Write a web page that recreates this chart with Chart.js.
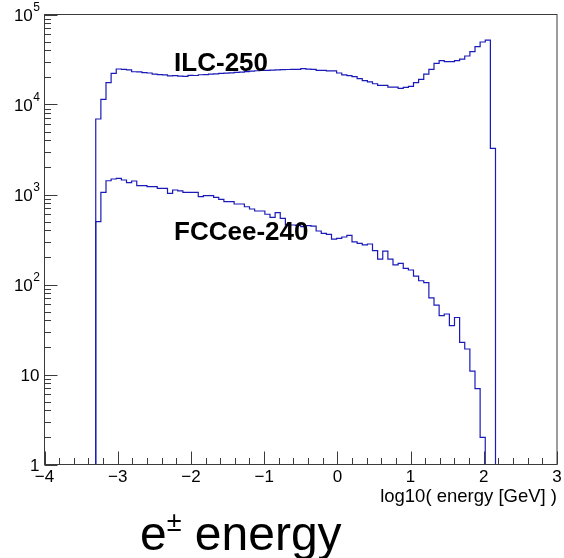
<!DOCTYPE html>
<html>
<head>
<meta charset="utf-8">
<script src="https://cdn.jsdelivr.net/npm/chart.js@4.4.1/dist/chart.umd.min.js"></script>
<style>
  html, body { margin: 0; padding: 0; background: #ffffff; }
  canvas { display: block; }
</style>
</head>
<body>
<canvas id="c" width="564" height="558"></canvas>
<script>
// Histogram binning: 100 equal bins of log10(E / GeV) over [-4, 3]
const X_MIN = -4;
const X_MAX = 3;
const N_BINS = 100;
const Y_MIN = 1;
const Y_MAX = 1e5;
const FIRST_BIN = 10;   // first filled bin, lower edge at -3.3

// Entries per bin, starting at FIRST_BIN
const ilcCounts = [
  6900, 11400, 17500, 22200, 24800, 24600, 24200, 23100, 23000, 22600,
  22400, 21700, 21500, 21300, 20800, 20900, 20700, 20500, 21100, 21000,
  21400, 21500, 21800, 21900, 22200, 22300, 22500, 22700, 22900, 23200,
  23500, 23700, 23900, 24000, 24100, 24300, 24400, 24500, 24600, 24600,
  25100, 24700, 24600, 24000, 24000, 23600, 23600, 22400, 21300, 20900,
  20400, 19400, 18400, 17800, 17000, 16300, 16300, 15600, 15600, 15100,
  15500, 15900, 17500, 19000, 21700, 24600, 28700, 30700, 29900, 29900,
  30700, 32000, 34600, 38600, 43900, 49500, 52000, 3260
];

const fccCounts = [
  500, 1058, 1422, 1486, 1513, 1449, 1352, 1413, 1253, 1253,
  1221, 1221, 1172, 1172, 1031, 1122, 1096, 1058, 1058, 1058,
  946, 970, 970, 931, 885, 832, 832, 784, 784, 731,
  690, 656, 656, 603, 558, 628, 544, 458, 458, 455,
  440, 450, 445, 393, 370, 361, 320, 326, 337, 352,
  297, 287, 275, 282, 238, 191, 235, 191, 165, 172,
  151, 145, 124, 110, 105, 71, 59, 45, 47, 35,
  43, 22.8, 19.2, 10.9, 6.95, 2.0
];

const seriesNames = ['ILC-250', 'FCCee-240'];
const seriesLabelX = [-2.23, -2.23];
const seriesLabelY = [23600, 312];

const xTickValues = [-4, -3, -2, -1, 0, 1, 2, 3];
const xTickLabels = ['\u22124', '\u22123', '\u22122', '\u22121', '0', '1', '2', '3'];
const yTickValues = [1, 10, 100, 1000, 10000, 100000];
const yTickBases = ['1', '10', '10', '10', '10', '10'];
const yTickExps = ['', '', '2', '3', '4', '5'];

const xAxisTitle = 'log10( energy [GeV] )';
const titleMain = 'e';
const titleSup = '\u00B1';
const titleRest = ' energy';

const LINE_COLOR = '#1a1ab8';
const AXIS_COLOR = '#3a3a3a';
const FONT = '"Liberation Sans", Arial, Helvetica, sans-serif';

// Convert bin contents into step points at the bin lower edges.
// Empty bins sit on the axis minimum, as a log-scale histogram is drawn.
function histPoints(counts) {
  const w = (X_MAX - X_MIN) / N_BINS;
  const pts = [];
  for (let k = 0; k <= N_BINS; k++) {
    const i = k - FIRST_BIN;
    const v = (k < N_BINS && i >= 0 && i < counts.length) ? counts[i] : 0;
    pts.push({ x: X_MIN + k * w, y: v > 0 ? v : Y_MIN });
  }
  return pts;
}

// Frame, inward ticks, tick labels and text, all placed through the chart scales
const rootFrame = {
  id: 'rootFrame',
  afterDatasetsDraw(chart) {
    const ctx = chart.ctx;
    const xs = chart.scales.x;
    const ys = chart.scales.y;
    const a = chart.chartArea;
    ctx.save();

    // frame
    ctx.strokeStyle = AXIS_COLOR;
    ctx.lineWidth = 1;
    ctx.strokeRect(a.left, a.top, a.right - a.left, a.bottom - a.top);

    // x ticks: majors every unit, four minors between
    ctx.beginPath();
    for (let i = 0; i < xTickValues.length; i++) {
      const px = Math.round(xs.getPixelForValue(xTickValues[i])) + 0.5;
      ctx.moveTo(px, a.bottom);
      ctx.lineTo(px, a.bottom - 13);
      if (i < xTickValues.length - 1) {
        const step = (xTickValues[i + 1] - xTickValues[i]) / 5;
        for (let m = 1; m < 5; m++) {
          const pm = Math.round(xs.getPixelForValue(xTickValues[i] + m * step)) + 0.5;
          ctx.moveTo(pm, a.bottom);
          ctx.lineTo(pm, a.bottom - 6.5);
        }
      }
    }
    // y ticks: decades and 2..9 within each decade
    for (let i = 0; i < yTickValues.length; i++) {
      const py = Math.round(ys.getPixelForValue(yTickValues[i])) + 0.5;
      ctx.moveTo(a.left, py);
      ctx.lineTo(a.left + 13, py);
      if (i < yTickValues.length - 1) {
        for (let m = 2; m <= 9; m++) {
          const pm = Math.round(ys.getPixelForValue(yTickValues[i] * m)) + 0.5;
          ctx.moveTo(a.left, pm);
          ctx.lineTo(a.left + 6.5, pm);
        }
      }
    }
    ctx.stroke();

    // x tick labels
    ctx.fillStyle = '#000';
    ctx.font = '17px ' + FONT;
    ctx.textAlign = 'center';
    ctx.textBaseline = 'alphabetic';
    xTickValues.forEach((v, i) => {
      ctx.fillText(xTickLabels[i], xs.getPixelForValue(v), a.bottom + 17);
    });

    // y tick labels with exponents
    const rightEdge = a.left - 5;
    yTickValues.forEach((v, i) => {
      const py = ys.getPixelForValue(v);
      ctx.textAlign = 'left';
      ctx.font = '12px ' + FONT;
      const we = yTickExps[i] ? ctx.measureText(yTickExps[i]).width : 0;
      ctx.font = '17px ' + FONT;
      const wb = ctx.measureText(yTickBases[i]).width;
      const x0 = rightEdge - we - wb;
      ctx.fillText(yTickBases[i], x0, py + 6);
      if (yTickExps[i]) {
        ctx.font = '12px ' + FONT;
        ctx.fillText(yTickExps[i], x0 + wb + 0.5, py - 4);
      }
    });

    // axis title
    ctx.font = '18.5px ' + FONT;
    ctx.textAlign = 'right';
    ctx.fillText(xAxisTitle, a.right, a.bottom + 37);

    // series labels
    ctx.font = 'bold 26px ' + FONT;
    ctx.textAlign = 'left';
    seriesNames.forEach((n, i) => {
      ctx.fillText(n, xs.getPixelForValue(seriesLabelX[i]), ys.getPixelForValue(seriesLabelY[i]));
    });

    // plot title
    ctx.font = '48px ' + FONT;
    let tx = 140;
    const ty = 550;
    ctx.fillText(titleMain, tx, ty);
    tx += ctx.measureText(titleMain).width;
    ctx.font = '27px ' + FONT;
    ctx.fillText(titleSup, tx, ty - 19);
    tx += ctx.measureText(titleSup).width;
    ctx.font = '48px ' + FONT;
    ctx.fillText(titleRest, tx, ty);

    ctx.restore();
  }
};

new Chart(document.getElementById('c'), {
  type: 'line',
  data: {
    datasets: [
      {
        label: seriesNames[0],
        data: histPoints(ilcCounts),
        stepped: 'before',
        borderColor: LINE_COLOR,
        borderWidth: 1.2,
        pointRadius: 0,
        fill: false,
        clip: 3
      },
      {
        label: seriesNames[1],
        data: histPoints(fccCounts),
        stepped: 'before',
        borderColor: LINE_COLOR,
        borderWidth: 1.2,
        pointRadius: 0,
        fill: false,
        clip: 3
      }
    ]
  },
  options: {
    responsive: false,
    animation: false,
    events: [],
    layout: { padding: { left: 44.5, right: 7, top: 14.5, bottom: 93.5 } },
    plugins: { legend: { display: false }, tooltip: { enabled: false } },
    scales: {
      x: { type: 'linear', min: X_MIN, max: X_MAX, display: false },
      y: { type: 'logarithmic', min: Y_MIN, max: Y_MAX, display: false }
    }
  },
  plugins: [rootFrame]
});
</script>
</body>
</html>
